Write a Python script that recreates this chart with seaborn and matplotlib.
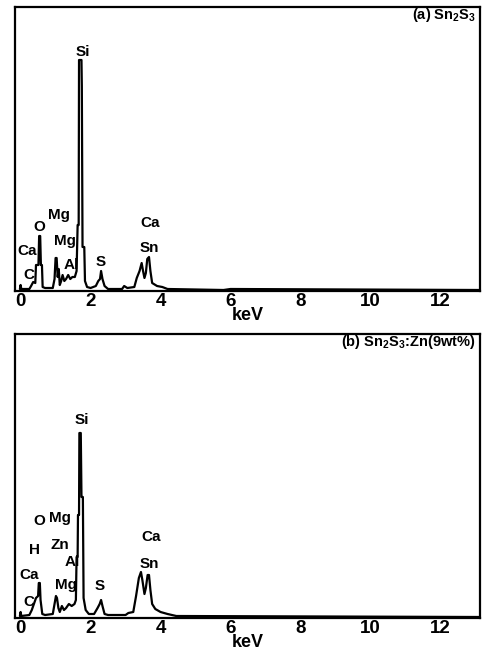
import seaborn as sns
import pandas as pd
import matplotlib.pyplot as plt

# EDS spectra (energy in keV, intensity in arbitrary units)
energy_a = [-0.02, 0.0, 0.02, 0.25, 0.30, 0.36, 0.42, 0.44, 0.51, 0.53, 0.56, 0.58, 0.61, 0.63, 0.70,
            0.92, 0.97, 1.00, 1.03, 1.06, 1.09, 1.12, 1.16, 1.20, 1.25, 1.30, 1.36, 1.42, 1.48, 1.55,
            1.60, 1.63, 1.66, 1.67, 1.74, 1.75, 1.77, 1.82, 1.84, 1.90, 2.00, 2.15, 2.22, 2.27, 2.30,
            2.34, 2.40, 2.50, 2.90, 2.96, 3.05, 3.25, 3.32, 3.40, 3.46, 3.50, 3.54, 3.58, 3.62, 3.67,
            3.71, 3.76, 3.90, 4.05, 4.20, 5.80, 6.00, 13.1]
counts_a = [2, 6, 2, 2, 5, 9, 8, 26, 26, 55, 55, 26, 26, 4, 3,
            3, 12, 33, 33, 14, 22, 6, 10, 16, 10, 12, 16, 12, 14, 14,
            20, 66, 66, 231, 231, 205, 44, 44, 10, 4, 3, 5, 10, 12, 20,
            12, 5, 2, 2, 5, 3, 4, 13, 20, 28, 20, 13, 18, 32, 34,
            20, 8, 5, 4, 2, 1, 2, 1]

energy_b = [-0.02, 0.0, 0.02, 0.25, 0.32, 0.38, 0.44, 0.50, 0.52, 0.55, 0.57, 0.62, 0.70, 0.92, 0.97,
            1.01, 1.04, 1.08, 1.12, 1.18, 1.24, 1.30, 1.38, 1.46, 1.54, 1.58, 1.60, 1.63, 1.64, 1.67,
            1.68, 1.72, 1.74, 1.78, 1.80, 1.86, 1.95, 2.10, 2.20, 2.26, 2.30, 2.34, 2.40, 2.50, 3.00,
            3.08, 3.22, 3.30, 3.38, 3.44, 3.48, 3.54, 3.58, 3.63, 3.67, 3.71, 3.76, 3.85, 4.00, 4.20,
            4.45, 13.1]
counts_b = [2, 6, 2, 3, 8, 14, 20, 22, 35, 35, 18, 4, 3, 4, 14,
            22, 20, 10, 6, 12, 8, 10, 14, 12, 14, 18, 61, 61, 103, 103,
            185, 185, 121, 121, 20, 8, 4, 4, 10, 14, 18, 12, 4, 3, 3,
            5, 6, 22, 40, 46, 38, 24, 30, 43, 43, 28, 14, 9, 6, 4,
            2, 1]

# peak labels
labels_a = ['Si', 'O', 'Mg', 'Mg', 'Ca', 'Al', 'C', 'S', 'Ca', 'Sn']
label_x_a = [1.79, 0.53, 1.10, 1.27, 0.19, 1.44, 0.24, 2.30, 3.70, 3.67]
label_y_a = [239, 64, 76, 50, 40, 26, 16, 29, 68, 43]

labels_b = ['Si', 'O', 'Mg', 'H', 'Zn', 'Al', 'Ca', 'Mg', 'C', 'S', 'Ca', 'Sn']
label_x_b = [1.76, 0.53, 1.13, 0.39, 1.13, 1.47, 0.24, 1.30, 0.24, 2.27, 3.73, 3.67]
label_y_b = [198, 97, 100, 68, 73, 56, 43, 33, 16, 32, 81, 54]

titles = ['(a) Sn$_2$S$_3$', '(b) Sn$_2$S$_3$:Zn(9wt%)']
xticks = [0, 2, 4, 6, 8, 10, 12]


def draw(ax, energy, counts, labels, lx, ly, title):
    df = pd.DataFrame({'keV': energy, 'counts': counts})
    sns.lineplot(data=df, x='keV', y='counts', ax=ax, color='black', lw=1.6,
                 estimator=None, sort=False)
    for t, x, y in zip(labels, lx, ly):
        ax.text(x, y, t, ha='center', va='center', fontsize=11, fontweight='bold')
    ax.text(0.991, 0.972, title, transform=ax.transAxes, ha='right', va='center',
            fontsize=10.5, fontweight='bold')
    ax.set_xlim(-0.16, 13.13)
    ax.set_ylim(0, 284)
    ax.set_xticks(xticks)
    ax.set_yticks([])
    ax.set_ylabel('')
    ax.set_xlabel('keV', fontsize=13, fontweight='bold', labelpad=-2)
    ax.tick_params(axis='x', direction='in', length=4, width=1.5, labelsize=13.5, pad=1.5)
    for lab in ax.get_xticklabels():
        lab.set_fontweight('bold')
    for s in ax.spines.values():
        s.set_linewidth(1.6)
        s.set_color('black')


def main():
    sns.set_style('white')
    plt.rcParams['font.family'] = ['Liberation Sans', 'DejaVu Sans']
    plt.rcParams['mathtext.fontset'] = 'custom'
    plt.rcParams['mathtext.rm'] = 'Liberation Sans:bold'
    plt.rcParams['mathtext.default'] = 'rm'
    plt.rcParams['text.color'] = 'black'
    plt.rcParams['axes.labelcolor'] = 'black'
    plt.rcParams['xtick.color'] = 'black'

    fig = plt.figure(figsize=(4.86, 6.54), dpi=100)
    ax1 = fig.add_axes([15 / 486, 1 - 291 / 654, 465 / 486, 284 / 654])
    ax2 = fig.add_axes([15 / 486, 1 - 618 / 654, 465 / 486, 284 / 654])

    draw(ax1, energy_a, counts_a, labels_a, label_x_a, label_y_a, titles[0])
    draw(ax2, energy_b, counts_b, labels_b, label_x_b, label_y_b, titles[1])

    fig.savefig('out.png', dpi=100)


if __name__ == '__main__':
    main()
